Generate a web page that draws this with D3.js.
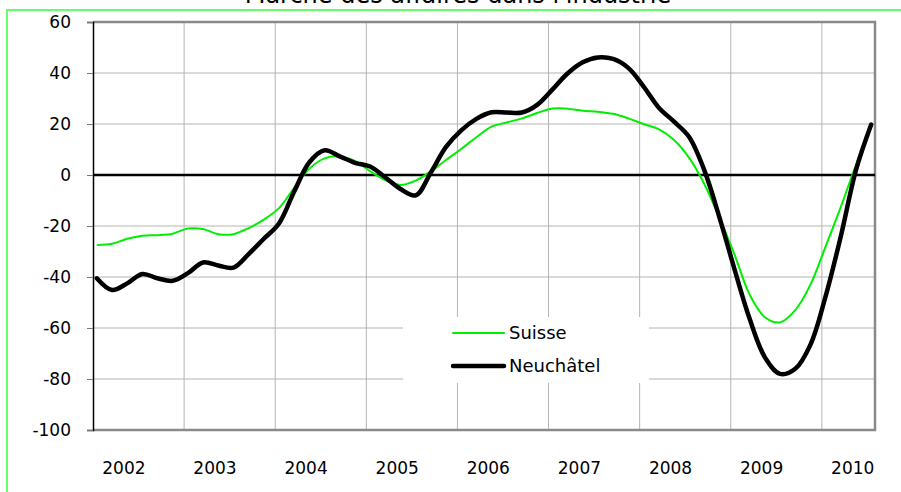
<!DOCTYPE html>
<html>
<head>
<meta charset="utf-8">
<script src="https://cdn.jsdelivr.net/npm/d3@7"></script>
<style>
  body { margin: 0; background: #fff; }
  svg { display: block; font-family: "DejaVu Sans", Verdana, sans-serif; }
</style>
</head>
<body>
<svg class="line-chart"></svg>
<script>
// chart title
let title = "Marche des affaires dans l'industrie";

// series names
let seriesNames = ["Suisse", "Neuchâtel"];

// month index (0 = jan 2002), one sample every two months
let months = [0, 2, 4, 6, 8, 10, 12, 14, 16, 18, 20, 22, 24, 26, 28, 30, 32, 34, 36, 38,
	40, 42, 44, 46, 48, 50, 52, 54, 56, 58, 60, 62, 64, 66, 68, 70, 72, 74, 76, 78,
	80, 82, 84, 86, 88, 90, 92, 94, 96, 98, 100, 102];

// Suisse
let suisse = [-27.5, -27, -25, -23.8, -23.6, -23, -21, -21.2, -23.2, -23.2, -20.8, -17.5,
	-13, -5, 2.5, 6.5, 7.3, 5.5, 1.5, -2, -3.9, -2.2, 1.4, 5.9, 10.2, 14.8, 19, 20.6,
	22.2, 24.3, 26.1, 26, 25.2, 24.8, 24, 22.2, 20, 18, 13.8, 6.8, -3.4, -16.7, -31.2,
	-47, -55.8, -57.8, -53, -43, -28, -12.5, 4, 19];

// Neuchâtel
let neuchatel = [-40.5, -45.1, -42.5, -38.8, -40.5, -41.5, -38.5, -34.3, -35.5, -36.3, -31,
	-25, -19, -6.5, 5, 9.7, 7.3, 4.8, 3.3, -1, -5.5, -8, 1, 11, 17.5, 22, 24.6, 24.5,
	24.5, 27.5, 33.5, 39.8, 44.2, 46.1, 45.5, 42, 34.8, 26.5, 21, 15, 2, -16.5, -37,
	-56.5, -71.5, -78, -76, -66.5, -47.5, -24, 2, 19.8];

// axis ticks
let yTicks = [-100, -80, -60, -40, -20, 0, 20, 40, 60];
let yearLabels = ["2002", "2003", "2004", "2005", "2006", "2007", "2008", "2009", "2010"];
let totalMonths = 103;

// colors
let green = "#00ee00";
let black = "#000000";

let width = 901;
let height = 492;
let plot = { left: 93, right: 875, top: 22, bottom: 430 };

let svg = d3.select(".line-chart")
	.attr("width", width)
	.attr("height", height);

// outer green frame (cut by the window)
svg.append("rect")
	.attr("x", 7).attr("y", 10)
	.attr("width", 1000).attr("height", 1000)
	.attr("fill", "#fff")
	.attr("stroke", "#66ff66")
	.attr("stroke-width", 2);

// title, mostly out of the window like in the original
svg.append("text")
	.attr("x", 458).attr("y", 3)
	.attr("text-anchor", "middle")
	.style("font-size", "24px")
	.style("fill", "#000")
	.text(title);

let xScale = d3.scaleLinear()
	.domain([0, totalMonths])
	.range([plot.left, plot.right]);

let yScale = d3.scaleLinear()
	.domain([-100, 60])
	.range([plot.bottom, plot.top]);

// horizontal grid lines
svg.append("g")
	.selectAll("line")
	.data(yTicks.filter(d => d !== 0 && d !== 60 && d !== -100))
	.enter().append("line")
	.attr("x1", plot.left).attr("x2", plot.right)
	.attr("y1", d => yScale(d)).attr("y2", d => yScale(d))
	.attr("stroke", "#b4b4b4")
	.attr("stroke-width", 1);

// vertical grid lines, one per year
let yearBreaks = yearLabels.slice(1).map((e, i) => (i + 1) * 12);
svg.append("g")
	.selectAll("line")
	.data(yearBreaks)
	.enter().append("line")
	.attr("x1", d => xScale(d)).attr("x2", d => xScale(d))
	.attr("y1", plot.top).attr("y2", plot.bottom)
	.attr("stroke", "#b4b4b4")
	.attr("stroke-width", 1);

// legend box hides the grid
let legend = svg.append("g").attr("class", "legend");
legend.append("rect")
	.attr("x", 403).attr("y", 317)
	.attr("width", 246).attr("height", 66)
	.attr("fill", "#fff");

let legendItems = [
	{ name: seriesNames[0], color: green, w: 2, y: 333 },
	{ name: seriesNames[1], color: black, w: 4.5, y: 366 }
];
legendItems.forEach(function(d) {
	legend.append("line")
		.attr("x1", 453).attr("x2", 504)
		.attr("y1", d.y).attr("y2", d.y)
		.attr("stroke", d.color)
		.attr("stroke-width", d.w)
		.attr("stroke-linecap", "round");
	legend.append("text")
		.attr("x", 509).attr("y", d.y)
		.attr("dy", "0.35em")
		.style("font-size", "18px")
		.style("fill", "#000")
		.text(d.name);
});

// plot frame: grey top, right and bottom
svg.append("path")
	.attr("d", "M" + plot.left + "," + plot.top + "H" + plot.right + "V" + plot.bottom + "H" + plot.left)
	.attr("fill", "none")
	.attr("stroke", "#8a8a8a")
	.attr("stroke-width", 2.5);

// y axis, plain hyphen for negatives
let yAxis = d3.axisLeft(yScale)
	.tickValues(yTicks)
	.tickSize(6)
	.tickPadding(16)
	.tickFormat(d => String(d));

let yG = svg.append("g")
	.attr("transform", "translate(" + plot.left + ",0)")
	.call(yAxis);
yG.select(".domain").attr("stroke", "#000").attr("stroke-width", 1.5);
yG.selectAll(".tick line").attr("stroke", "#777");
yG.selectAll(".tick text")
	.style("font-size", "17px")
	.style("font-family", "DejaVu Sans, Verdana, sans-serif")
	.style("fill", "#000");

// x axis, labels only
let xAxis = d3.axisBottom(xScale)
	.tickValues(yearLabels.map((e, i) => 4 + i * 12))
	.tickSize(0)
	.tickFormat((d, i) => yearLabels[i]);

let xG = svg.append("g")
	.attr("transform", "translate(0," + plot.bottom + ")")
	.call(xAxis);
xG.select(".domain").remove();
xG.selectAll(".tick text")
	.attr("dy", null)
	.attr("y", 44)
	.style("font-size", "17px")
	.style("font-family", "DejaVu Sans, Verdana, sans-serif")
	.style("fill", "#000");

// zero line
svg.append("line")
	.attr("x1", plot.left).attr("x2", plot.right)
	.attr("y1", yScale(0)).attr("y2", yScale(0))
	.attr("stroke", "#000")
	.attr("stroke-width", 2.5);

// line generator, points sit in the middle of each month
let line = d3.line()
	.x(function(d) { return xScale(d.m + 0.5); })
	.y(function(d) { return yScale(d.v); })
	.curve(d3.curveCatmullRom);

let suisseData = months.map((m, i) => ({ m: m, v: suisse[i] }));
let neuchatelData = months.map((m, i) => ({ m: m, v: neuchatel[i] }));

svg.append("path")
	.datum(suisseData)
	.attr("fill", "none")
	.attr("stroke", green)
	.attr("stroke-width", 2)
	.attr("d", line);

svg.append("path")
	.datum(neuchatelData)
	.attr("fill", "none")
	.attr("stroke", black)
	.attr("stroke-width", 4.5)
	.attr("stroke-linecap", "round")
	.attr("stroke-linejoin", "round")
	.attr("d", line);
</script>
</body>
</html>
